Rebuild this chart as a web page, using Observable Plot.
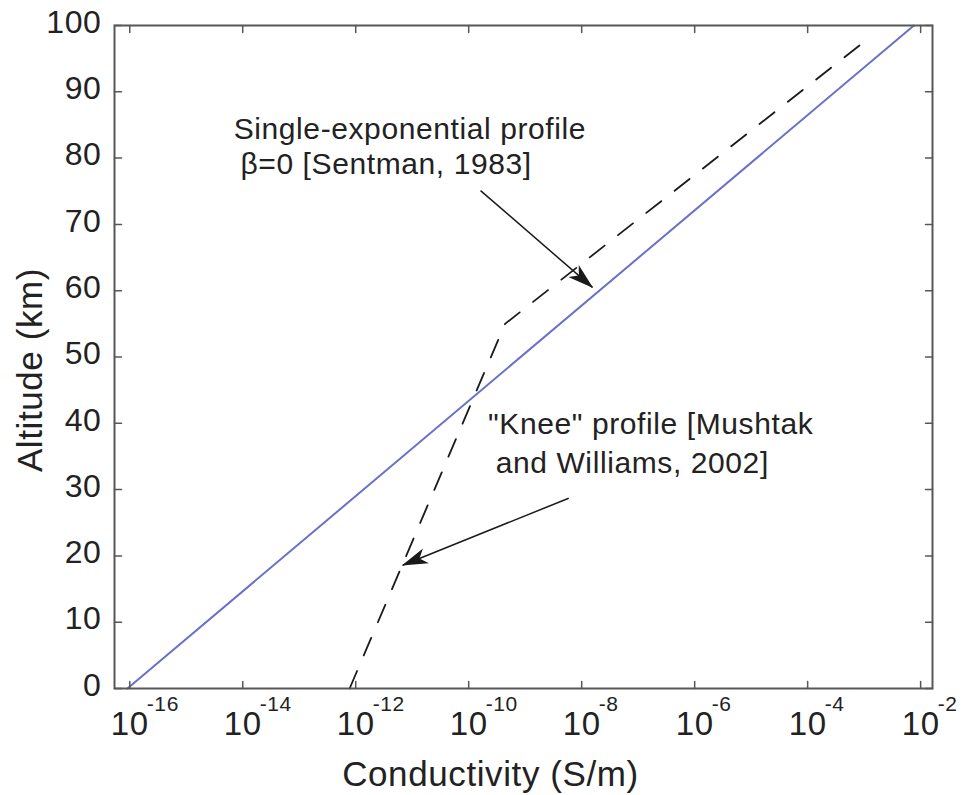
<!DOCTYPE html>
<html>
<head>
<meta charset="utf-8">
<script src="https://cdn.jsdelivr.net/npm/d3@7"></script>
<script src="https://cdn.jsdelivr.net/npm/@observablehq/plot@0.6"></script>
<style>
  html, body { margin: 0; padding: 0; background: #fff; }
  #chart svg { display: block; }
</style>
</head>
<body>
<div id="chart"></div>
<script>
// ---- data ----
const sentmanAltitude = [0, 100];                    // km
const sentmanConductivity = [9.1e-17, 7.6e-3];       // S/m
const kneeAltitude = [0, 55, 98.3];                  // km
const kneeConductivity = [7.8e-13, 4.4e-10, 1.3e-3]; // S/m

const xTicks = [1e-16, 1e-14, 1e-12, 1e-10, 1e-8, 1e-6, 1e-4, 1e-2];
const xTickExponents = ["-16", "-14", "-12", "-10", "-8", "-6", "-4", "-2"];
const yTicks = [0, 10, 20, 30, 40, 50, 60, 70, 80, 90, 100];

const annotationText = [
  "Single-exponential profile",
  "\u03b2=0 [Sentman, 1983]",
  "\"Knee\" profile [Mushtak",
  "and Williams, 2002]"
];
const annotationConductivity = [6.9e-15, 9.1e-15, 2.2e-10, 3.0e-10];
const annotationAltitude = [84.3, 79.0, 39.8, 33.9];

const arrowFromConductivity = [1.62e-10, 5.9e-9];
const arrowFromAltitude = [75.1, 28.7];
const arrowToConductivity = [1.55e-8, 6.8e-12];
const arrowToAltitude = [60.5, 18.6];

// ---- helpers ----
const sentman = sentmanAltitude.map((z, i) => ({z, s: sentmanConductivity[i]}));
const knee = kneeAltitude.map((z, i) => ({z, s: kneeConductivity[i]}));

const tickShape = { draw(context, l) { context.moveTo(0, 0); context.lineTo(0, -l); } };

function filledArrow(color, context) {
  const ns = "http://www.w3.org/2000/svg";
  const doc = (context && context.document) || document;
  const m = doc.createElementNS(ns, "marker");
  m.setAttribute("viewBox", "-28 -10 30 20");
  m.setAttribute("markerWidth", 30);
  m.setAttribute("markerHeight", 20);
  m.setAttribute("markerUnits", "userSpaceOnUse");
  m.setAttribute("orient", "auto");
  m.setAttribute("refX", 0);
  m.setAttribute("refY", 0);
  m.setAttribute("overflow", "visible");
  const p = doc.createElementNS(ns, "path");
  p.setAttribute("d", "M1,0L-25,-8L-18,0L-25,8Z");
  p.setAttribute("fill", color);
  p.setAttribute("stroke", "none");
  m.appendChild(p);
  return m;
}

const axisColor = "#575757";
const textColor = "#222";
const tickCommon = {length: 7, anchor: "start", shape: tickShape, stroke: axisColor, strokeWidth: 1.5};

const chart = Plot.plot({
  width: 966,
  height: 795,
  marginLeft: 114,
  marginRight: 34,
  marginTop: 25,
  marginBottom: 107,
  style: {fontFamily: "'Liberation Sans', Arial, sans-serif", background: "#fff", color: textColor, letterSpacing: "0.6px"},
  x: {type: "log", domain: [Math.pow(10, -16.27), Math.pow(10, -1.79)], axis: null},
  y: {domain: [0, 100], axis: null},
  marks: [
    // curves
    Plot.line(sentman, {x: "s", y: "z", stroke: "#6c70c8", strokeWidth: 2}),
    Plot.line(knee, {x: "s", y: "z", stroke: "#1a1a1a", strokeWidth: 1.8, strokeDasharray: "19,17"}),
    // frame & ticks
    Plot.frame({stroke: axisColor, strokeWidth: 2}),
    Plot.vector(xTicks, {x: d => d, frameAnchor: "bottom", rotate: 0, ...tickCommon}),
    Plot.vector(xTicks, {x: d => d, frameAnchor: "top", rotate: 180, ...tickCommon}),
    Plot.vector(yTicks, {y: d => d, frameAnchor: "left", rotate: 90, ...tickCommon}),
    Plot.vector(yTicks, {y: d => d, frameAnchor: "right", rotate: 270, ...tickCommon}),
    // tick labels
    Plot.text(xTicks, {x: d => d, frameAnchor: "bottom", lineAnchor: "middle", textAnchor: "middle", text: () => "10", dy: 36, fontSize: 33, fill: textColor}),
    Plot.text(xTicks, {x: d => d, frameAnchor: "bottom", lineAnchor: "middle", text: (d, i) => xTickExponents[i], textAnchor: "start", dx: 17, dy: 16, fontSize: 21, fill: textColor}),
    Plot.text(yTicks, {y: d => d, frameAnchor: "left", lineAnchor: "middle", text: d => String(d), textAnchor: "end", dx: -13, dy: -3, fontSize: 32, fill: textColor}),
    // axis titles
    Plot.text(["Conductivity (S/m)"], {frameAnchor: "bottom", lineAnchor: "middle", textAnchor: "middle", text: d => d, dx: -33, dy: 86, fontSize: 35, fill: textColor}),
    Plot.text(["Altitude (km)"], {frameAnchor: "left", lineAnchor: "middle", textAnchor: "middle", text: d => d, rotate: -90, dx: -84, dy: 13, fontSize: 35, fill: textColor}),
    // annotations
    Plot.text(annotationText, {
      x: (d, i) => annotationConductivity[i],
      y: (d, i) => annotationAltitude[i],
      text: d => d, textAnchor: "start", lineAnchor: "middle", fontSize: 30, fill: textColor
    }),
    Plot.link(arrowFromConductivity, {
      x1: d => d, y1: (d, i) => arrowFromAltitude[i],
      x2: (d, i) => arrowToConductivity[i], y2: (d, i) => arrowToAltitude[i],
      stroke: "#1a1a1a", strokeWidth: 1.5, markerEnd: filledArrow
    })
  ]
});
document.getElementById("chart").appendChild(chart);
</script>
</body>
</html>
